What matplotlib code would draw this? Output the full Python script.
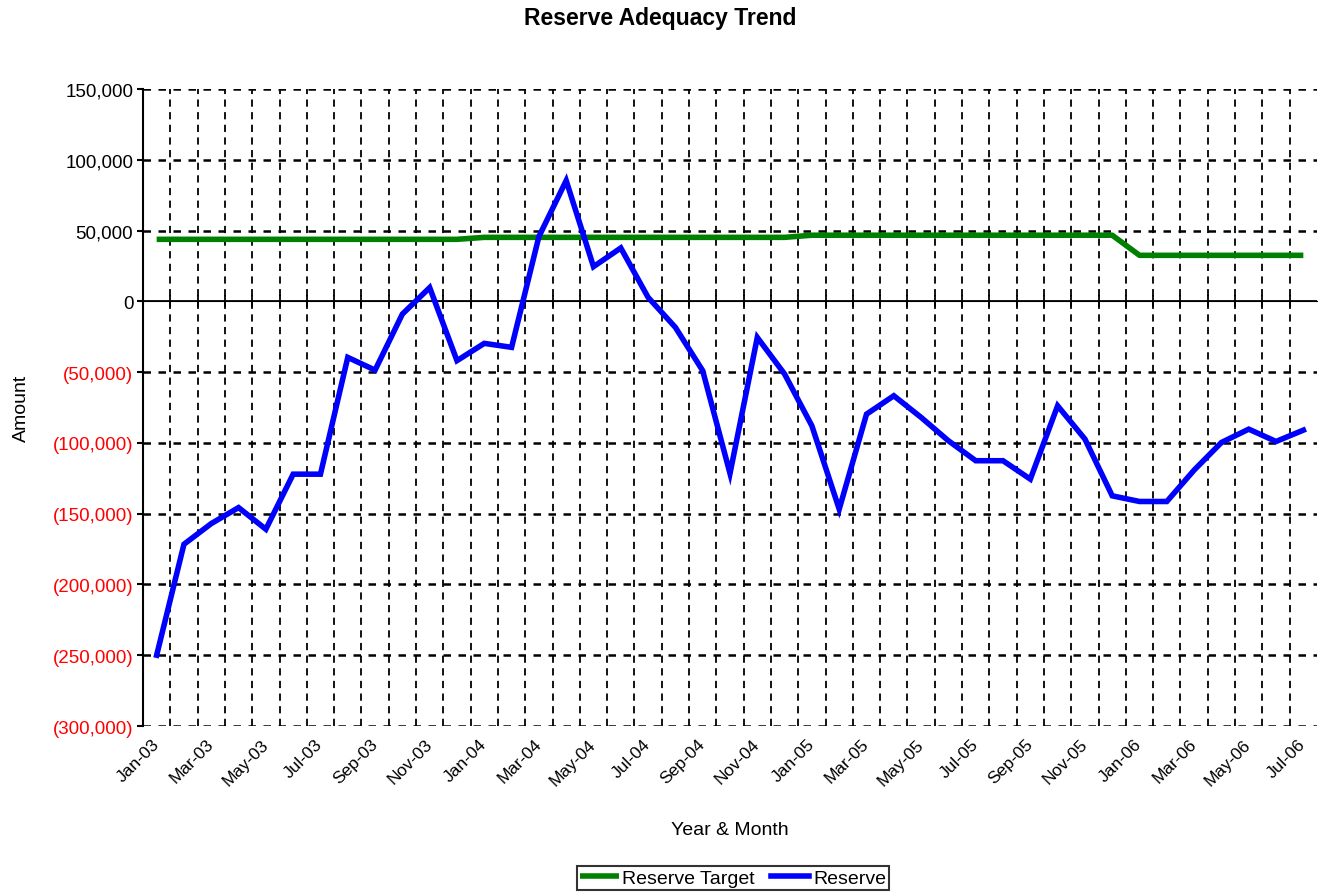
import numpy as np
from matplotlib import pyplot as plt

plt.rcParams['font.family'] = ['Liberation Sans', 'DejaVu Sans']

months = ['Jan', 'Feb', 'Mar', 'Apr', 'May', 'Jun',
          'Jul', 'Aug', 'Sep', 'Oct', 'Nov', 'Dec']
# Jan-03 .. Jul-06
labels = ['%s-%02d' % (m, y) for y in (3, 4, 5, 6) for m in months][:43]

reserve_target = [43800] * 12 + [45200] * 12 + [46700] * 12 + [32500] * 7

reserve = [-250000, -171600, -157000, -145700, -161000, -122100,
           -122100, -39600, -48600, -9000, 9700, -41900,
           -29700, -32500, 45700, 85300, 24500, 37700,
           2800, -18400, -49000, -121600, -25500, -51400,
           -88000, -146800, -79700, -66700, -82000, -98500,
           -112600, -112600, -125600, -73800, -97300, -137400,
           -141400, -141400, -119200, -99700, -90300, -99000,
           -91000]

yticks = [150000, 100000, 50000, 0, -50000, -100000, -150000,
          -200000, -250000, -300000]

x = np.arange(len(labels))

fig = plt.figure(figsize=(13.2, 8.95), dpi=100)
ax = fig.add_axes([143 / 1320, 1 - 727 / 895, 1174 / 1320, (727 - 90) / 895])

ax.plot(x, reserve_target, color='#008000', lw=4, label='Reserve Target',
        solid_capstyle='butt')
ax.plot(x, reserve, color='#0000ff', lw=4, label='Reserve',
        solid_joinstyle='miter')

ax.set_xlim(-0.5, len(labels) - 0.5)
ax.set_ylim(-300000, 150000)

# grid: horizontal at each y tick, vertical at category boundaries
for yv in yticks:
    if yv == 0:
        continue
    ax.axhline(yv, color='black', lw=1.8, ls=(0, (3, 3)), zorder=0.5)
for xb in np.arange(0.5, len(labels) - 0.5, 1):
    ax.axvline(xb, color='black', lw=1.3, ls=(0, (4, 3)), zorder=0.5)
ax.axhline(0, color='black', lw=1.3, zorder=0.6)

# zero-crossing category axis with tick marks
ylo, yhi = ax.get_ylim()
zax = ax.secondary_xaxis((0 - ylo) / (yhi - ylo))
zax.set_xticks(np.arange(0.5, len(labels) - 0.5, 1))
zax.set_xticklabels([])
zax.tick_params(direction='inout', length=8, width=1.3, color='black')
zax.spines['bottom'].set_visible(False)

for s in ['top', 'right', 'bottom']:
    ax.spines[s].set_visible(False)
ax.spines['left'].set_linewidth(1.5)

ax.set_xticks(x[::2])
ax.set_xticklabels(labels[::2], rotation=45, ha='right', va='center',
                   rotation_mode='anchor', fontsize=12.5)
ax.tick_params(axis='x', length=0, pad=11)

ax.set_yticks(yticks)
ylabels = []
for v in yticks:
    if v < 0:
        ylabels.append('({:,})'.format(-v))
    else:
        ylabels.append('{:,}'.format(v))
ax.set_yticklabels(ylabels, fontsize=13.5)
for t, v in zip(ax.get_yticklabels(), yticks):
    t.set_color('red' if v < 0 else 'black')
ax.tick_params(axis='y', direction='out', length=4, width=1.5, pad=3)

ax.set_ylabel('Amount', fontsize=14, labelpad=16)
ax.set_xlabel('Year & Month', fontsize=14, labelpad=24)
fig.suptitle('Reserve Adequacy Trend', fontsize=16.5, fontweight='bold',
             x=0.5, y=0.992)

leg = fig.legend(loc='center', bbox_to_anchor=(733 / 1320, 1 - 879 / 895),
                 ncol=2, fontsize=14, frameon=True, fancybox=False,
                 handlelength=2.0, handletextpad=0.2, columnspacing=0.8,
                 borderpad=0.15, borderaxespad=0)
leg.get_frame().set_edgecolor('black')
leg.get_frame().set_linewidth(1.5)

plt.savefig('out.png', dpi=100)
